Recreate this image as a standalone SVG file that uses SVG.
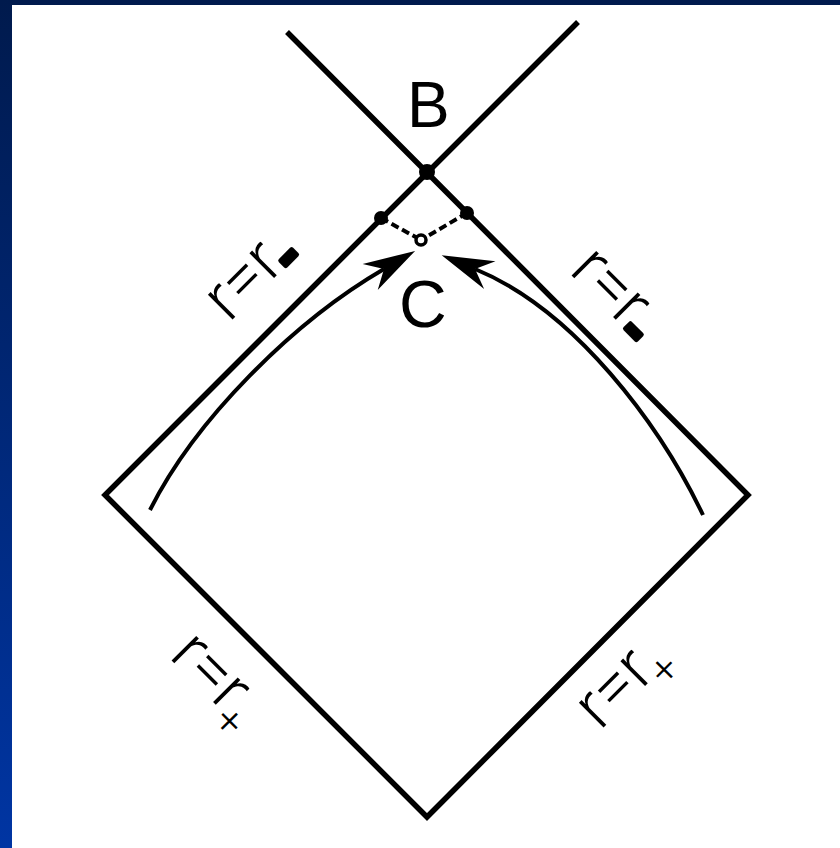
<svg xmlns="http://www.w3.org/2000/svg" width="840" height="848" viewBox="0 0 840 848">
  <defs>
    <linearGradient id="bg" x1="0" y1="0" x2="0" y2="1">
      <stop offset="0" stop-color="#001a4d"/>
      <stop offset="1" stop-color="#0035a3"/>
    </linearGradient>
    <marker id="stealth" markerUnits="userSpaceOnUse" markerWidth="56" markerHeight="32" refX="16" refY="15" orient="auto" overflow="visible">
      <path d="M0,0 L52,15 L0,30 L16,15 Z" fill="#000"/>
    </marker>
    <style>
      .frame { fill: none; stroke: #000; stroke-width: 5.5; stroke-linejoin: miter; stroke-miterlimit: 10; }
      .curve { fill: none; stroke: #000; stroke-width: 4; marker-end: url(#stealth); }
      .dash { fill: none; stroke: #000; stroke-width: 4; stroke-dasharray: 8 4; }
      .big { font-family: "Liberation Sans", Arial, sans-serif; fill: #000; }
      .lbl { font-family: Roboto, "Liberation Sans", sans-serif; font-weight: 300; font-size: 66px; fill: #000; }
      .minus { font-family: "Liberation Sans", Arial, sans-serif; font-weight: bold; font-size: 62px; stroke: #000; stroke-width: 4.5; stroke-linejoin: round; }
      .plus { font-family: Roboto, "Liberation Sans", sans-serif; font-weight: 300; font-size: 42px; }
    </style>
  </defs>
  <rect x="0" y="0" width="840" height="848" fill="url(#bg)"/>
  <rect x="12" y="5" width="828" height="843" fill="#fff"/>

  <g id="frame">
    <polyline class="frame" points="287,32 748,495 427,817 105,495 578,22"/>
  </g>

  <g id="connectors">
    <path class="dash" d="M381,218 L421,240"/>
    <path class="dash" d="M467,213 L421,240"/>
    <path class="curve" d="M150,510 C195,420 293,322 384,269"/>
    <path class="curve" d="M703,515 C660,425 575,310 475,269"/>
  </g>

  <g id="node-B">
    <circle cx="427" cy="172" r="8" fill="#000"/>
    <text class="big" x="407" y="127" font-size="64">B</text>
  </g>

  <g id="node-C">
    <circle cx="421" cy="240" r="5" fill="#fff" stroke="#000" stroke-width="3.5"/>
    <text class="big" x="399" y="327" font-size="66">C</text>
  </g>

  <g id="node-left-dot">
    <circle cx="381" cy="218" r="7" fill="#000"/>
  </g>
  <g id="node-right-dot">
    <circle cx="467" cy="213" r="7" fill="#000"/>
  </g>

  <g id="label-upper-left" transform="translate(229,323) rotate(-45)">
    <text class="lbl" x="0" y="0">r=r<tspan class="minus" dx="-3" dy="12">-</tspan></text>
  </g>
  <g id="label-upper-right" transform="translate(568,272) rotate(45)">
    <text class="lbl" x="0" y="0">r=r<tspan class="minus" dx="-3" dy="12">-</tspan></text>
  </g>
  <g id="label-lower-left" transform="translate(168,657) rotate(45)">
    <text class="lbl" x="0" y="0">r=r<tspan class="plus" dx="-4" dy="16">+</tspan></text>
  </g>
  <g id="label-lower-right" transform="translate(600,731) rotate(-45)">
    <text class="lbl" x="0" y="0">r=r<tspan class="plus" dx="-4" dy="16">+</tspan></text>
  </g>
</svg>
